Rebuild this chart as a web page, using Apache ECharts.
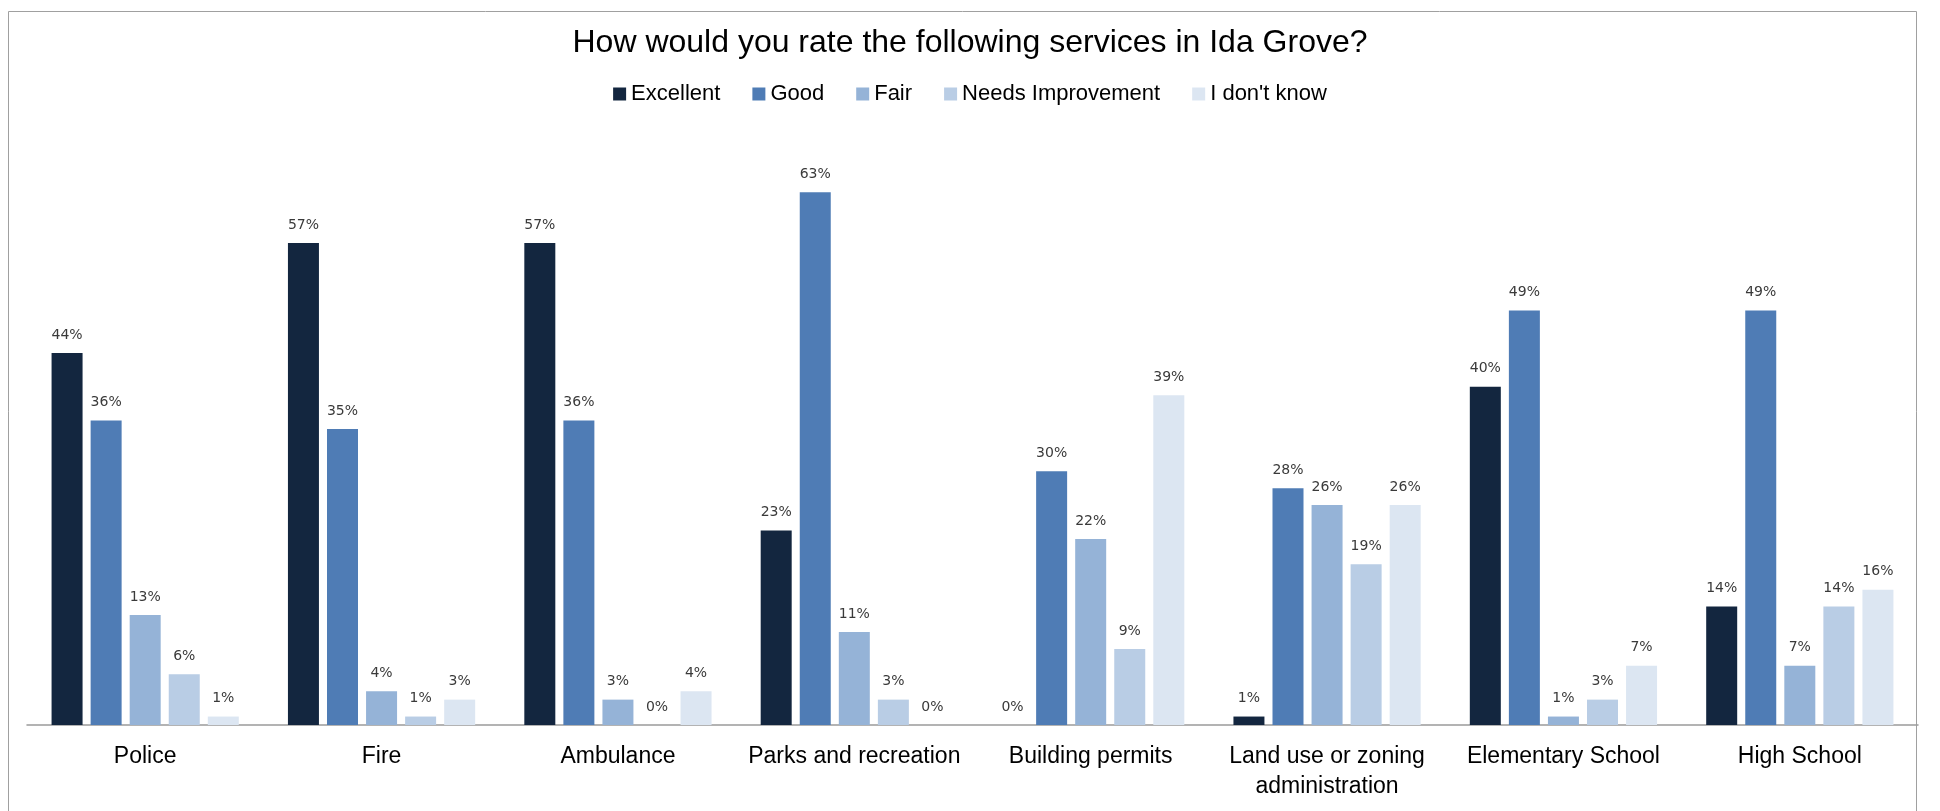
<!DOCTYPE html>
<html>
<head>
<meta charset="utf-8">
<script src="https://cdn.jsdelivr.net/npm/echarts@6/dist/echarts.min.js"></script>
<style>html,body{margin:0;padding:0;background:#fff;}#c{width:1940px;height:811px;}</style>
</head>
<body>
<div id="c"></div>
<script>
const categories = ['Police', 'Fire', 'Ambulance', 'Parks and recreation', 'Building permits', 'Land use or zoning\nadministration', 'Elementary School', 'High School'];
const seriesNames = ['Excellent', 'Good', 'Fair', 'Needs Improvement', "I don't know"];
const excellent = [44, 57, 57, 23, 0, 1, 40, 14];
const good = [36, 35, 36, 63, 30, 28, 49, 49];
const fair = [13, 4, 3, 11, 22, 26, 1, 7];
const needsImprovement = [6, 1, 0, 3, 9, 19, 3, 14];
const dontKnow = [1, 3, 4, 0, 39, 26, 7, 16];
const colors = ['#13263f', '#4f7cb5', '#95b3d7', '#b9cde5', '#dce6f2'];

const allValues = [excellent, good, fair, needsImprovement, dontKnow];
const chart = echarts.init(document.getElementById('c'), null, {renderer: 'canvas'});
const series = seriesNames.map((name, i) => ({
  name: name,
  type: 'bar',
  data: allValues[i],
  barWidth: 31,
  barGap: '26%',
  itemStyle: {color: colors[i]},
  label: {
    show: true,
    position: 'top',
    distance: 11,
    formatter: p => p.value + '%',
    fontFamily: 'DejaVu Sans',
    fontSize: 14,
    color: '#3a3a3a'
  }
}));
chart.setOption({
  animation: false,
  backgroundColor: '#fff',
  color: colors,
  title: {
    text: 'How would you rate the following services in Ida Grove?',
    left: 'center',
    top: 22,
    textStyle: {fontFamily: 'Liberation Sans', fontSize: 32, fontWeight: 'normal', color: '#000'}
  },
  legend: {
    data: seriesNames,
    left: 'center',
    top: 78,
    icon: 'rect',
    itemWidth: 13,
    itemHeight: 13,
    itemGap: 32,
    textStyle: {fontFamily: 'Liberation Sans', fontSize: 22, color: '#000'}
  },
  grid: {left: 27, right: 22, top: 133, bottom: 86, containLabel: false},
  xAxis: {
    type: 'category',
    data: categories,
    axisLine: {lineStyle: {color: '#9a9a9a', width: 1.5}},
    axisTick: {show: false},
    axisLabel: {fontFamily: 'Liberation Sans', fontSize: 23, color: '#000', margin: 17, lineHeight: 30, interval: 0}
  },
  yAxis: {
    type: 'value',
    min: 0,
    max: 70,
    show: false
  },
  graphic: [{
    type: 'rect',
    shape: {x: 8.5, y: 11.5, width: 1908, height: 830},
    style: {fill: 'none', stroke: '#a0a0a0', lineWidth: 1}
  }],
  series: series
});
</script>
</body>
</html>
